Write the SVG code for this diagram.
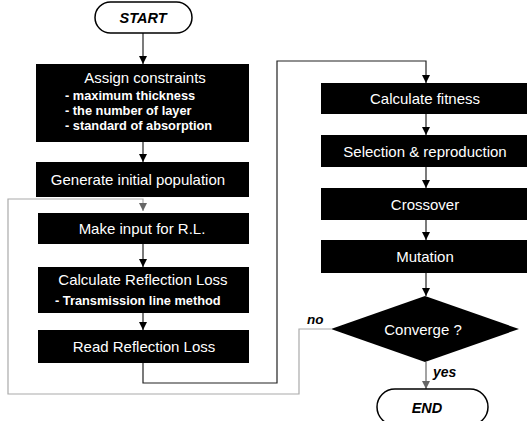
<svg xmlns="http://www.w3.org/2000/svg" width="529" height="421" viewBox="0 0 529 421">
<defs>
<style>
.box{fill:#000}
.t{font-family:"Liberation Sans",Arial,sans-serif;font-size:15px;fill:#fff;text-anchor:middle}
.b{font-family:"Liberation Sans",Arial,sans-serif;font-size:12.8px;font-weight:bold;fill:#fff}
.bi{font-family:"Liberation Sans",Arial,sans-serif;font-weight:bold;font-style:italic;fill:#000}
.term{fill:#fff;stroke:#000;stroke-width:1.5}
.ln{fill:none;stroke:#222;stroke-width:1.2}
.gl{fill:none;stroke:#aaa;stroke-width:1.2}
</style>
<marker id="ah" viewBox="0 0 10 10" refX="10" refY="5" markerWidth="8" markerHeight="8" markerUnits="userSpaceOnUse" orient="auto">
<path d="M0,0 L10,5 L0,10 z" fill="#000"/>
</marker>
<marker id="ahg" viewBox="0 0 10 10" refX="10" refY="5" markerWidth="8" markerHeight="8" markerUnits="userSpaceOnUse" orient="auto">
<path d="M0,0 L10,5 L0,10 z" fill="#666"/>
</marker>
</defs>
<rect width="529" height="421" fill="#fff"/>

<g id="connectors">
<line class="ln" x1="143" y1="33" x2="143" y2="64" marker-end="url(#ah)"/>
<line class="ln" x1="143" y1="142" x2="143" y2="162" marker-end="url(#ah)"/>
<line class="ln" x1="143" y1="244" x2="143" y2="267" marker-end="url(#ah)"/>
<line class="ln" x1="143" y1="313" x2="143" y2="330" marker-end="url(#ah)"/>
<polyline class="ln" points="143,363 143,383 277,383 277,61 426,61 426,83" marker-end="url(#ah)"/>
<line class="ln" x1="426" y1="114" x2="426" y2="135" marker-end="url(#ah)"/>
<line class="ln" x1="426" y1="167" x2="426" y2="188" marker-end="url(#ah)"/>
<line class="ln" x1="426" y1="220" x2="426" y2="240" marker-end="url(#ah)"/>
<line class="ln" x1="426" y1="273" x2="426" y2="296" marker-end="url(#ah)"/>
<line x1="426" y1="362" x2="426" y2="389" stroke="#666" stroke-width="1.2" marker-end="url(#ahg)"/>
<polyline class="gl" points="331,329 299,329 299,394 8,394 8,199 143,199 143,211" marker-end="url(#ahg)"/>
<text class="bi" x="307" y="324" font-size="13.5">no</text>
<text class="bi" x="433" y="377" font-size="14">yes</text>
</g>

<g id="start">
<rect class="term" x="95" y="2" width="97" height="31" rx="15.5"/>
<text class="bi" x="143" y="23" font-size="14.5" text-anchor="middle">START</text>
</g>

<g id="assign">
<rect class="box" x="36" y="64" width="213" height="78"/>
<text class="t" x="145" y="83">Assign constraints</text>
<text class="b" x="65" y="100">- maximum thickness</text>
<text class="b" x="65" y="115">- the number of layer</text>
<text class="b" x="65" y="130">- standard of absorption</text>
</g>

<g id="generate">
<rect class="box" x="36" y="162" width="213" height="35"/>
<text class="t" x="138" y="185" font-size="16">Generate initial population</text>
</g>

<g id="makeinput">
<rect class="box" x="38" y="213" width="211" height="31"/>
<text class="t" x="142" y="234">Make input for R.L.</text>
</g>

<g id="calcrl">
<rect class="box" x="38" y="267" width="211" height="46"/>
<text class="t" x="143" y="285">Calculate Reflection Loss</text>
<text class="b" x="55" y="305">- Transmission line method</text>
</g>

<g id="readrl">
<rect class="box" x="38" y="330" width="211" height="33"/>
<text class="t" x="144" y="352">Read Reflection Loss</text>
</g>

<g id="fitness">
<rect class="box" x="321" y="83" width="206" height="31"/>
<text class="t" x="425" y="104">Calculate fitness</text>
</g>

<g id="selection">
<rect class="box" x="321" y="135" width="206" height="32"/>
<text class="t" x="425" y="157">Selection &amp; reproduction</text>
</g>

<g id="crossover">
<rect class="box" x="321" y="188" width="206" height="32"/>
<text class="t" x="425" y="210">Crossover</text>
</g>

<g id="mutation">
<rect class="box" x="321" y="240" width="206" height="33"/>
<text class="t" x="425" y="262">Mutation</text>
</g>

<g id="converge">
<polygon points="425,296 519,329 425,362 331,329" fill="#000"/>
<text class="t" x="423" y="335">Converge ?</text>
</g>

<g id="end">
<rect class="term" x="377" y="389" width="111" height="36" rx="18"/>
<text class="bi" x="427" y="413" font-size="14.5" text-anchor="middle">END</text>
</g>
</svg>
